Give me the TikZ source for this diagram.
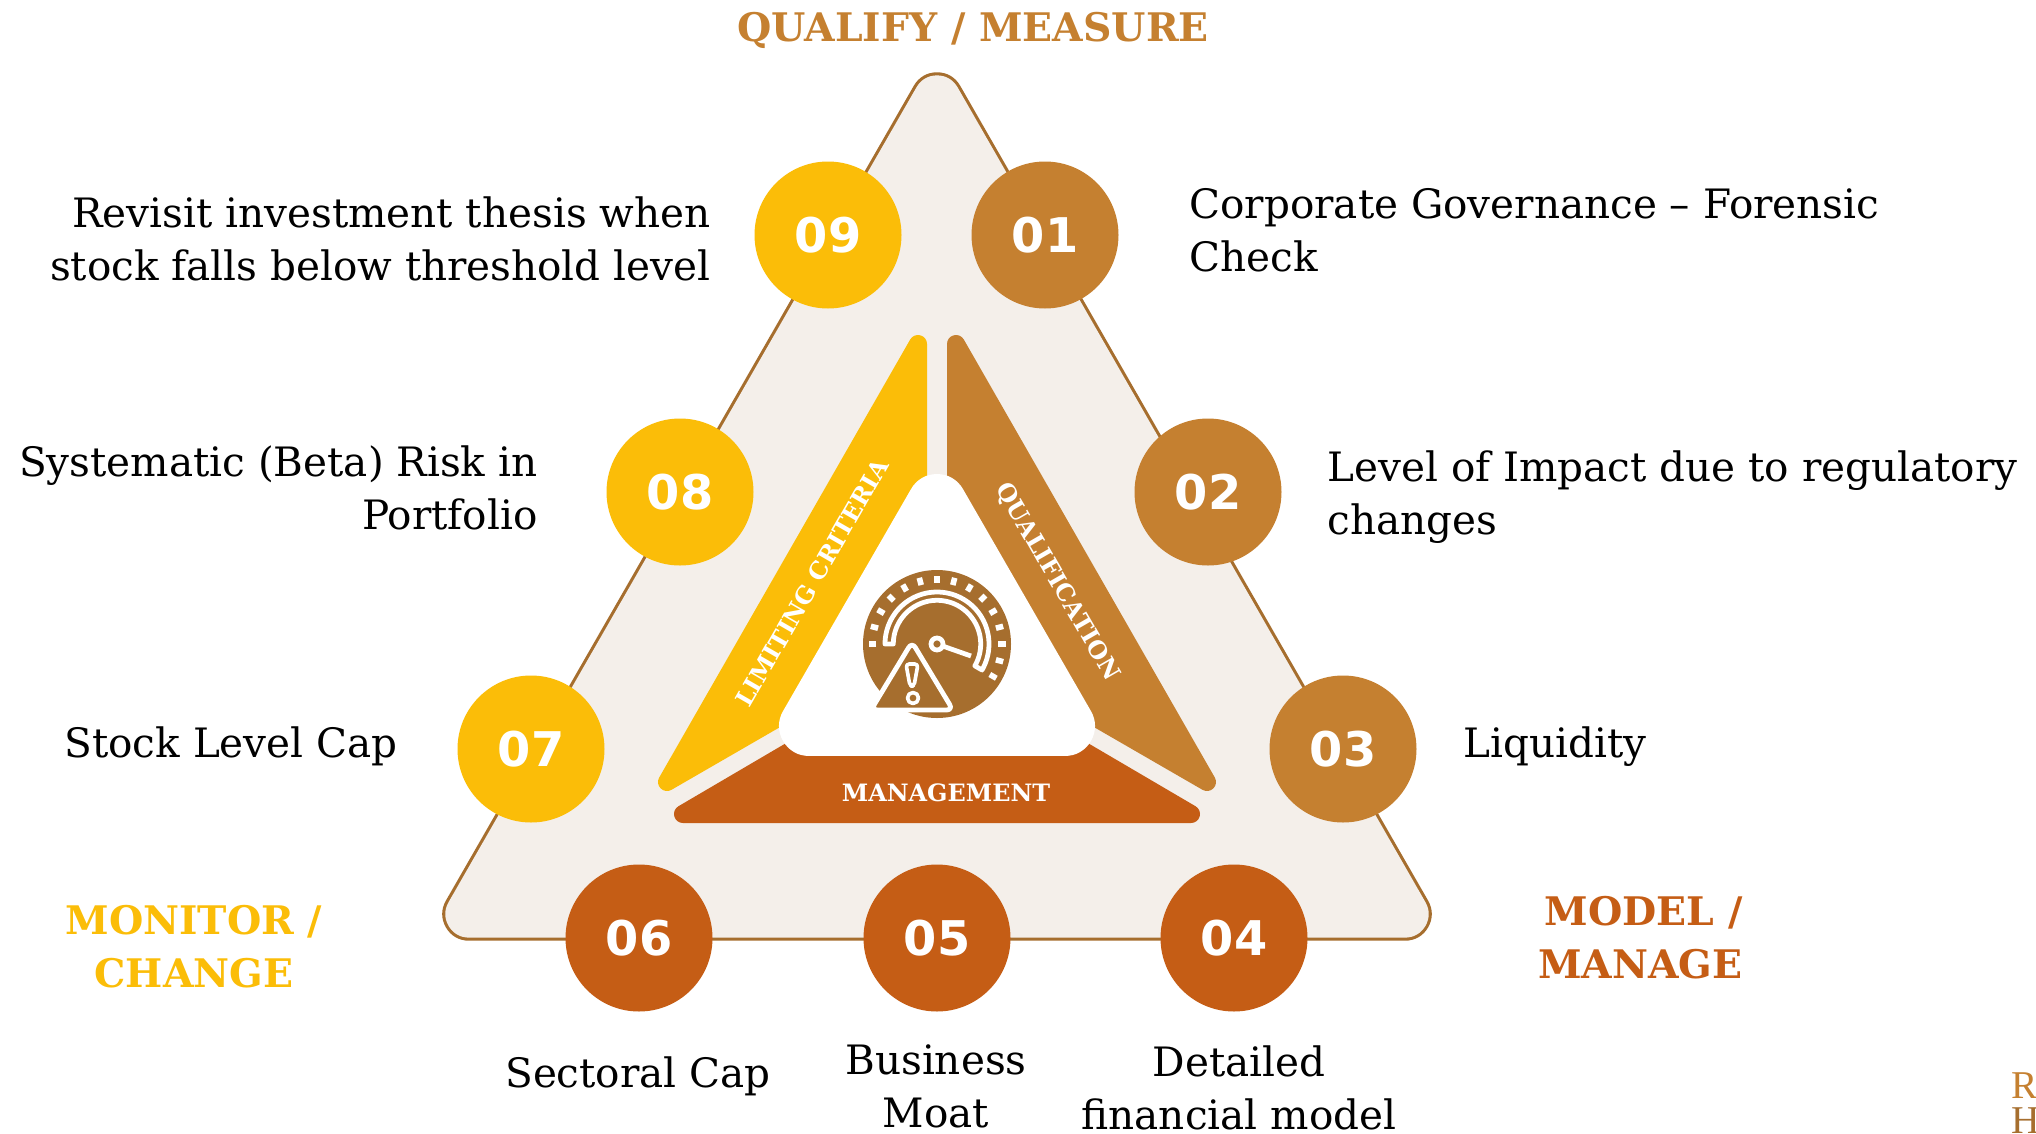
\documentclass[tikz,border=0pt]{standalone}
\usepackage{fontspec}
\setmainfont{DejaVu Serif}
\newfontfamily\numfont{DejaVu Sans}[BoldFont={DejaVu Sans Bold}]
\newfontfamily\markfont{Liberation Serif}
\definecolor{cyellow}{HTML}{FBBD08}
\definecolor{cbrown}{HTML}{C58030}
\definecolor{corange}{HTML}{C55D15}
\definecolor{cbg}{HTML}{F4EFEA}
\definecolor{cline}{HTML}{A66E2E}
\tikzset{
  num/.style={circle,minimum size=147*0.0125cm,inner sep=0pt,text=white,font=\numfont\bfseries\fontsize{17}{18}\selectfont},
  body/.style={inner sep=0pt,text=black,font=\fontsize{14.4}{18.85}\selectfont},
  head/.style={inner sep=0pt,font=\bfseries\fontsize{14}{18.85}\selectfont},
  band/.style={inner sep=0pt,text=white,font=\bfseries\fontsize{8.5}{10}\selectfont},
  cornermark/.style={inner sep=0pt,anchor=north west,font=\markfont\fontsize{14}{14}\selectfont},
  iconline/.style={white,line width=1.7pt,line join=round},
  softshape/.style={line join=round,line width=6.4pt}
}
\begin{document}
\begin{tikzpicture}[x=0.0125cm,y=-0.0125cm]
\useasboundingbox (0,0) rectangle (2036,1134);
\fill[white] (0,0) rectangle (2036,1134);
\begin{scope}
\clip (0,0) rectangle (2036,1134);
% outer triangle: outline, then fill
\draw[cline,fill=cline,line join=round,line width=19pt] (937,99) -- (1405,914) -- (469,914) -- cycle;
\draw[cbg,fill=cbg,line join=round,line width=16.8pt] (937,99) -- (1405,914) -- (469,914) -- cycle;
% inner bands
\draw[softshape,cyellow,fill=cyellow] (918,344) -- (667,782) -- (918,637) -- cycle;
\draw[softshape,cbrown,fill=cbrown] (956,344) -- (1207,782) -- (956,637) -- cycle;
\draw[softshape,corange,fill=corange] (683,814) -- (1191,814) -- (937,665) -- cycle;
\draw[white,fill=white,line join=round,line width=21.3pt] (937,504) -- (1065,726) -- (809,726) -- cycle;
% band labels
\node[band,rotate=60] (lim) at (812,583) {LIMITING CRITERIA};
\node[band,rotate=-60] (qual) at (1057,582) {QUALIFICATION};
\node[band] (mgmt) at (946,793) {MANAGEMENT};
% icon
\begin{scope}[shift={(937,644)}]
\fill[cline] (0,0) circle (74);
\foreach \a in {-30,-15,...,180}
  \draw[white,line width=2pt] ({61*cos(\a)},{-61*sin(\a)}) -- ({68.5*cos(\a)},{-68.5*sin(\a)});
\draw[iconline] plot[domain=180:-30,samples=60] ({52*cos(\x)},{-52*sin(\x)}) -- plot[domain=-30:180,samples=60] ({43.7*cos(\x)},{-43.7*sin(\x)}) -- cycle;
\draw[iconline] (0,0) circle (6);
\draw[iconline] (7,2.5) -- (34,12);
\draw[iconline,fill=cline,rounded corners=0.08cm] (-25,-2) -- (16,66) -- (-66,66) -- cycle;
\draw[iconline,line width=1.3pt,rounded corners=0.04cm,fill=cline] (-31,20) -- (-19,20) -- (-23,42) -- (-27,42) -- cycle;
\draw[iconline,line width=1.3pt] (-24,54) circle (5.5);
\end{scope}
% circles
\node[num,fill=cyellow] (n09) at (828,235) {09};
\node[num,fill=cbrown] (n01) at (1045,235) {01};
\node[num,fill=cyellow] (n08) at (680,492) {08};
\node[num,fill=cbrown] (n02) at (1208,492) {02};
\node[num,fill=cyellow] (n07) at (531,749) {07};
\node[num,fill=cbrown] (n03) at (1343,749) {03};
\node[num,fill=corange] (n06) at (639,938) {06};
\node[num,fill=corange] (n05) at (937,938) {05};
\node[num,fill=corange] (n04) at (1234,938) {04};
% headings
\node[head,text=cbrown] (hq) at (973,30) {QUALIFY / MEASURE};
\node[head,text=cyellow,align=center] (hm) at (194,947) {MONITOR /\\CHANGE};
\node[head,text=corange,align=right,anchor=east] (hd) at (1743,938) {MODEL /\\MANAGE};
% texts
\node[body,align=right,anchor=east] (t09) at (711,239) {Revisit investment thesis when\\stock falls below threshold level};
\node[body,align=left,anchor=west] (t01) at (1189,230) {Corporate Governance – Forensic\\Check};
\node[body,align=right,anchor=east] (t08) at (538,488) {Systematic (Beta) Risk in\\Portfolio};
\node[body,align=left,anchor=west] (t02) at (1327,497) {Level of Impact due to regulatory\\changes};
\node[body,anchor=west] (t07) at (64,746) {Stock Level Cap};
\node[body,anchor=west] (t03) at (1463,747) {Liquidity};
\node[body] (t06) at (638,1076) {Sectoral Cap};
\node[body,align=center] (t05) at (936,1086) {Business\\Moat};
\node[body,align=center] (t04) at (1239,1088) {Detailed\\financial model};
\node[cornermark,text=cbrown] (mr) at (2011,1072) {R};
\node[cornermark,text=cline] (mh) at (2011,1107) {H};
\end{scope}
\end{tikzpicture}
\end{document}
